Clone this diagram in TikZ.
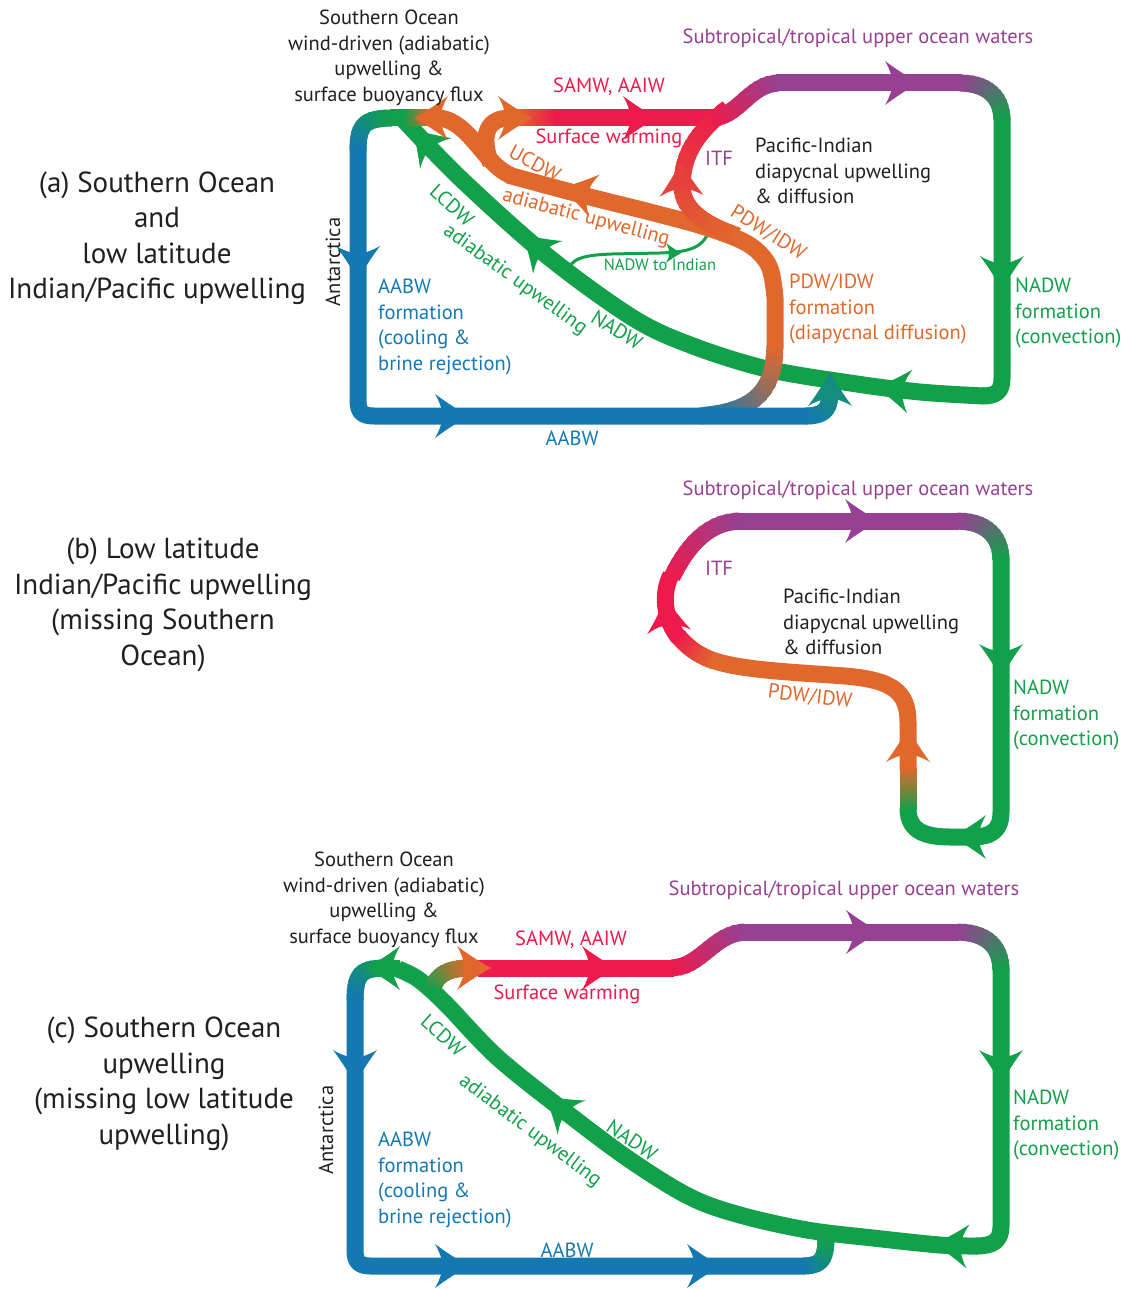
\documentclass[tikz,border=0pt]{standalone}
\usepackage{fontspec}
\setmainfont{PT Sans}
\definecolor{bl}{HTML}{1479B1}
\definecolor{gr}{HTML}{13A04B}
\definecolor{orn}{HTML}{E0682D}
\definecolor{rd}{HTML}{ED1A4B}
\definecolor{pu}{HTML}{964192}
\definecolor{tx}{HTML}{231F20}
\tikzset{
  band/.style={line width=17pt, line cap=butt, line join=round},
  lab/.style={font=\fontsize{20.5}{25.5}\selectfont, inner sep=0pt},
  big/.style={font=\fontsize{29}{35.5}\selectfont, inner sep=0pt, align=center, text=tx}
}
% gradient along a Bezier: start, c1, c2, end, colour1, colour2
\newcommand\gcurve[6]{%
  \foreach \k in {0,...,13}{%
    \pgfmathsetmacro\ta{\k/14}%
    \pgfmathsetmacro\tb{min(1,(\k+1.7)/14)}%
    \pgfmathtruncatemacro\pc{round(100*(\k+0.5)/14)}%
    \path #1 .. controls #2 and #3 .. #4 coordinate[pos=\ta] (gA) coordinate[pos=\tb] (gB);%
    \draw[band, draw=#6!\pc!#5] (gA) -- (gB);%
  }%
}
% arrow head: [scale]{x}{y}{angle}{colour}; (x,y) = front of the wings
\newcommand\ahead[5][1]{%
  \fill[#5, shift={(#2,#3)}, rotate=#4, scale=#1]
    (14,0) .. controls (4,5.5) and (-8,13) .. (-20,22)
    .. controls (-17,17) and (-15,12) .. (-14,8.5) -- (-14,-8.5)
    .. controls (-15,-12) and (-17,-17) .. (-20,-22)
    .. controls (-8,-13) and (4,-5.5) .. (14,0) -- cycle;%
}
\begin{document}
\begin{tikzpicture}[x=1pt,y=-1pt]
\useasboundingbox (0,0) rectangle (1130,1289);

%% ================= PANEL (a) =================
% green NADW
\draw[band, gr] (1002,118) -- (1002,378) .. controls (1002,392) and (996,396) .. (982,396);
\draw[band, gr] plot[smooth, tension=0.55] coordinates {(984,396) (920,392) (850,383) (767,369) (693,346) (633,318) (546,255) (460,178) (402,118)};
\draw[band, gr] (412,118) -- (390,118);
\gcurve{(392,118)}{(364,118)}{(358,125)}{(358,150)}{gr}{bl}
% thin NADW to Indian
\draw[gr, line width=3pt] (568,272) .. controls (570,258) and (585,255) .. (612,254) -- (660,253) .. controls (690,252) and (704,248) .. (710,228);
% orange main
\draw[band, orn] plot[smooth, tension=0.55] coordinates {(508,175) (586,196) (650,212) (705,227) (748,244) (769,266) (775,298)} -- (775,348);
\gcurve{(775,346)}{(775,395)}{(750,412)}{(700,416)}{orn}{bl}
% blue
\draw[band, bl] (358,148) -- (358,400) .. controls (358,412) and (362,416) .. (374,416) -- (808,416);
\gcurve{(806,416)}{(824,416)}{(830,410)}{(830,392)}{bl}{bl!50!gr}
% orange branches
\draw[band, orn] (512,176) .. controls (485,166) and (470,122) .. (440,118) -- (428,118);
\gcurve{(430,118)}{(422,118)}{(414,118)}{(404,118)}{orn}{gr}
\draw[band, orn] (491,164) .. controls (480,135) and (487,118) .. (510,118) -- (518,118);
\gcurve{(516,118)}{(530,118)}{(542,118)}{(556,118)}{orn}{rd}
% red SAMW, ITF
\draw[band, rd] (554,118) -- (714,118);
\gcurve{(738,236)}{(705,225)}{(683,210)}{(682,188)}{orn}{orn!55!rd}
\gcurve{(682,190)}{(681,160)}{(692,135)}{(728,108)}{orn!55!rd}{rd}
\gcurve{(712,118)}{(738,118)}{(750,83)}{(778,83)}{rd}{pu}
\draw[band, pu] (776,83) -- (962,83);
\gcurve{(960,83)}{(985,83)}{(1002,95)}{(1002,120)}{pu}{gr}
% arrows (a)
\ahead{905}{83}{0}{pu}
\ahead{1002}{276}{-90}{gr}
\ahead{890}{389}{173}{gr}
\ahead{533}{244}{138}{gr}
\ahead{422}{139}{134}{gr}
\ahead{428}{118}{180}{orn}
\ahead{518}{118}{0}{orn}
\ahead{643}{118}{0}{rd}
\ahead{575}{191}{166}{orn}
\ahead{681}{176}{92}{orn!50!rd}
\ahead{455}{416}{0}{bl}
\ahead{358}{266}{-90}{bl}
\ahead{830}{386}{90}{bl!50!gr}
\ahead[0.45]{675}{253}{0}{gr}

% labels (a)
\node[lab, align=center, text=tx] (soA) at (389,58) {Southern Ocean\\wind-driven (adiabatic)\\upwelling \&\\surface buoyancy flux};
\node[big] (tA) at (157,238) {(a) Southern Ocean\\and\\low latitude\\Indian/Pacific upwelling};
\node[lab, text=tx, rotate=90] (antA) at (333,262) {Antarctica};
\node[lab, align=left, text=bl, anchor=west] (aabwfA) at (378,327) {AABW\\formation\\(cooling \&\\brine rejection)};
\node[lab, text=bl] (aabwA) at (572,438) {AABW};
\node[lab, text=rd] (samwA) at (609,87) {SAMW, AAIW};
\node[lab, text=rd] (swA) at (609,138) {Surface warming};
\node[lab, text=pu] (stA) at (858,38) {Subtropical/tropical upper ocean waters};
\node[lab, text=pu] (itfA) at (719,158) {ITF};
\node[lab, align=left, text=tx, anchor=west] (piA) at (755,171) {Pacific-Indian\\diapycnal upwelling\\\& diffusion};
\node[lab, text=orn, rotate=-28] (ucdwA) at (535,163) {UCDW};
\node[lab, text=orn, rotate=-15] (adoA) at (586,218) {adiabatic upwelling};
\node[lab, text=orn, rotate=-32] (pdwA) at (768,233) {PDW/IDW};
\node[lab, align=left, text=orn, anchor=west] (pdwfA) at (789,309) {PDW/IDW\\formation\\(diapycnal diffusion)};
\node[lab, align=left, text=gr, anchor=west] (nadwfA) at (1015,313) {NADW\\formation\\(convection)};
\node[lab, text=gr, rotate=-42] (lcdwA) at (452,205) {LCDW};
\node[lab, text=gr, rotate=-36] (adgA) at (515,280) {adiabatic upwelling};
\node[lab, text=gr, rotate=-32] (nadwA) at (617,330) {NADW};
\node[font=\fontsize{16.5}{18}\selectfont, text=gr, inner sep=0pt] (n2i) at (660,265) {NADW to Indian};

%% ================= PANEL (b) =================
\draw[band, pu] (738,521) -- (959,521);
\gcurve{(957,521)}{(985,521)}{(1001,535)}{(1001,560)}{pu}{gr}
\draw[band, gr] (1001,558) -- (1001,812) .. controls (1001,830) and (992,837) .. (972,837) -- (950,837) .. controls (920,837) and (908,828) .. (908,808);
\gcurve{(908,810)}{(908,798)}{(908,782)}{(908,768)}{gr}{orn}
\draw[band, orn] (908,770) -- (908,722) .. controls (908,692) and (893,680) .. (845,676) .. controls (790,672) and (740,670) .. (712,660);
\gcurve{(714,661)}{(698,655)}{(688,648)}{(678,636)}{orn}{rd}
\draw[band, rd] (679,638) .. controls (663,618) and (662,592) .. (671,575);
\gcurve{(672,577)}{(684,552)}{(705,521)}{(740,521)}{rd}{pu}
\ahead{865}{521}{0}{pu}
\ahead{1001}{664}{-90}{gr}
\ahead{966}{837}{180}{gr}
\ahead{908}{742}{90}{orn}
\ahead{667}{612}{96}{rd}

\node[big] (tB) at (163,605) {(b) Low latitude\\Indian/Pacific upwelling\\(missing Southern\\Ocean)};
\node[lab, text=pu] (stB) at (858,490) {Subtropical/tropical upper ocean waters};
\node[lab, text=pu] (itfB) at (719,568) {ITF};
\node[lab, align=left, text=tx, anchor=west] (piB) at (783,622) {Pacific-Indian\\diapycnal upwelling\\\& diffusion};
\node[lab, text=orn, rotate=-7] (pdwB) at (810,697) {PDW/IDW};
\node[lab, align=left, text=gr, anchor=west] (nadwfB) at (1013,715) {NADW\\formation\\(convection)};

%% ================= PANEL (c) =================
\draw[band, gr] (1001,968) -- (1001,1226) .. controls (1001,1241) and (993,1246) .. (976,1246);
\draw[band, gr] plot[smooth, tension=0.55] coordinates {(978,1246) (940,1245) (873,1238) (807,1230) (740,1215) (690,1197) (630,1160) (563,1110) (497,1057) (445,1003) (418,979) (398,969)};
\draw[band, gr] (400,968) -- (385,968);
\gcurve{(387,968)}{(362,968)}{(355,972)}{(355,1000)}{gr}{bl}
\draw[band, bl] (355,998) -- (355,1250) .. controls (355,1262) and (359,1266) .. (371,1266) -- (805,1266);
\gcurve{(803,1266)}{(821,1266)}{(826,1260)}{(826,1238)}{bl}{gr}
\gcurve{(432,990)}{(436,975)}{(447,968)}{(470,968)}{gr}{orn}
\draw[band, rd] (478,968) -- (674,968);
\gcurve{(672,968)}{(700,968)}{(715,932)}{(745,932)}{rd}{pu}
\draw[band, pu] (743,932) -- (959,932);
\gcurve{(957,932)}{(985,932)}{(1001,945)}{(1001,970)}{pu}{gr}
\ahead{866}{932}{0}{pu}
\ahead{1001}{1070}{-90}{gr}
\ahead{948}{1245}{176}{gr}
\ahead{556}{1105}{141}{gr}
\ahead{380}{968}{180}{gr}
\ahead{477}{968}{0}{orn}
\ahead{602}{968}{0}{rd}
\ahead{355}{1070}{-90}{bl}
\ahead{455}{1266}{0}{bl}
\ahead{707}{1266}{0}{bl}

\node[lab, align=center, text=tx] (soC) at (384,900) {Southern Ocean\\wind-driven (adiabatic)\\upwelling \&\\surface buoyancy flux};
\node[big] (tC) at (164,1084) {(c) Southern Ocean\\upwelling\\(missing low latitude\\upwelling)};
\node[lab, text=pu] (stC) at (844,890) {Subtropical/tropical upper ocean waters};
\node[lab, text=rd] (samwC) at (571,940) {SAMW, AAIW};
\node[lab, text=rd] (swC) at (567,994) {Surface warming};
\node[lab, text=tx, rotate=90] (antC) at (326,1130) {Antarctica};
\node[lab, align=left, text=bl, anchor=west] (aabwfC) at (378,1180) {AABW\\formation\\(cooling \&\\brine rejection)};
\node[lab, text=bl] (aabwC) at (567,1250) {AABW};
\node[lab, text=gr, rotate=-42] (lcdwC) at (443,1035) {LCDW};
\node[lab, text=gr, rotate=-37] (adgC) at (530,1131) {adiabatic upwelling};
\node[lab, text=gr, rotate=-34] (nadwC) at (632,1140) {NADW};
\node[lab, align=left, text=gr, anchor=west] (nadwfC) at (1013,1125) {NADW\\formation\\(convection)};
\end{tikzpicture}
\end{document}
